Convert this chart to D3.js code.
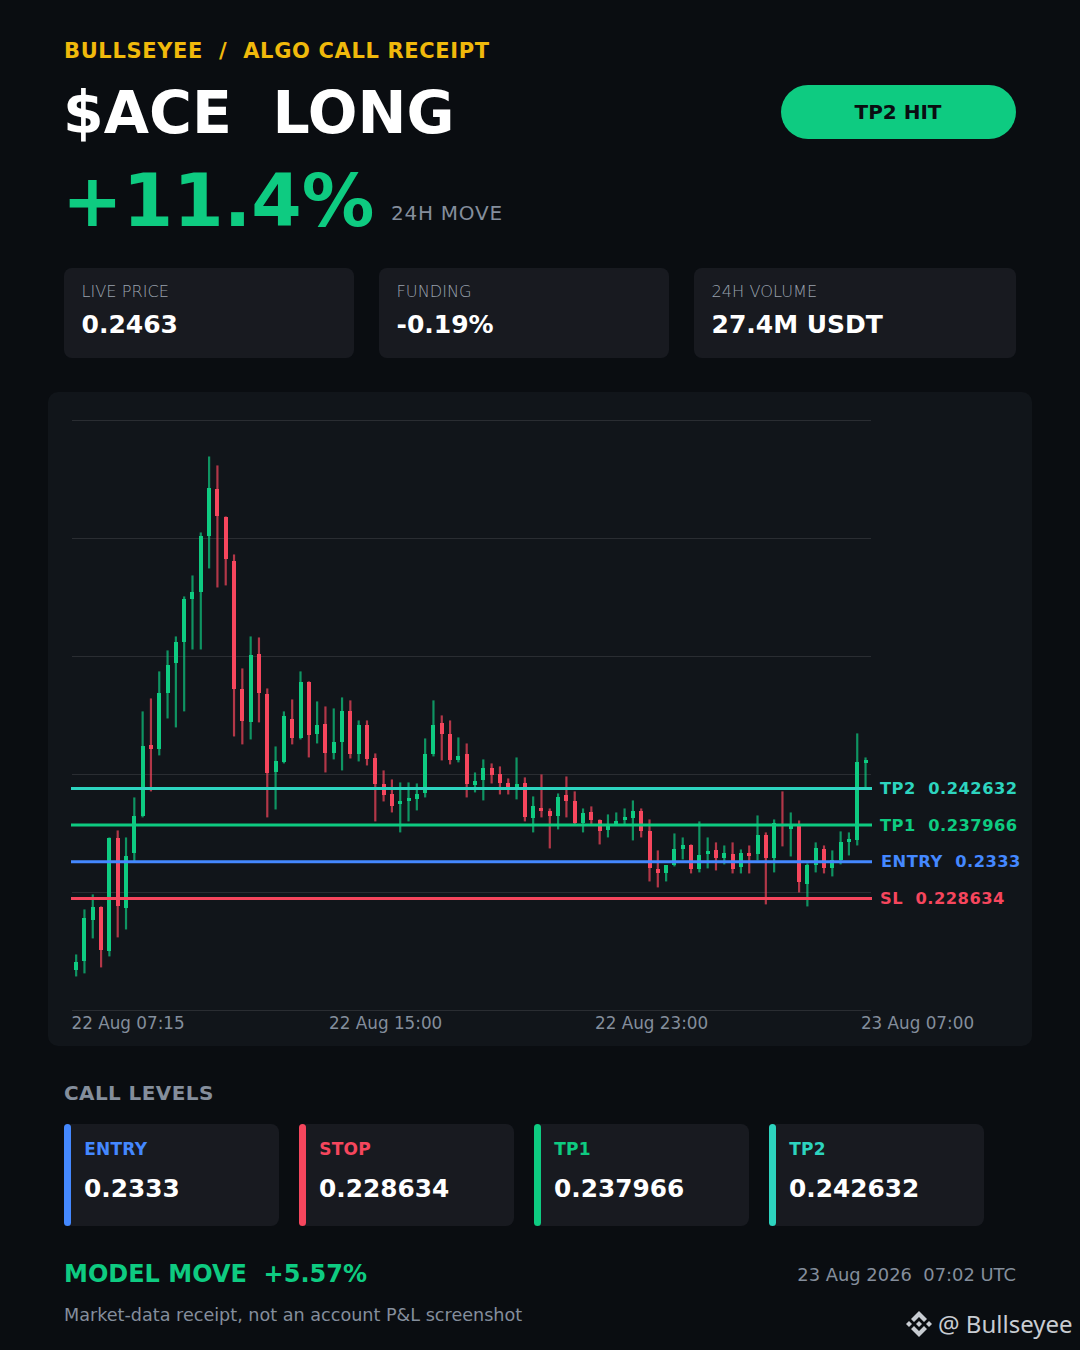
<!DOCTYPE html>
<html>
<head>
<meta charset="utf-8">
<script src="https://cdn.jsdelivr.net/npm/d3@7"></script>
<style>
  html, body { margin: 0; padding: 0; background: #0a0d11; }
  svg { display: block; }
  text { white-space: pre; }
</style>
</head>
<body>
<script>
const width = 1080, height = 1350;

// 15 minute candles, 22 Aug 07:15 to 23 Aug 07:00
const opens = [.21947,.22061,.22583,.22748,.22189,.23626,.22736,.23436,.23906,.24810,.24759,.25472,.25853,.26121,.26668,.26757,
  .27469,.28067,.27711,.27151,.25522,.25103,.25968,.25459,.24466,.24594,.25141,.24899,.25612,.24950,.25077,.24708,
  .24848,.25243,.24695,.25064,.24644,.24314,.24186,.24059,.24097,.24123,.24199,.24695,.25090,.24950,.24619,.24695,
  .24301,.24365,.24517,.24441,.24326,.24263,.24326,.23881,.24008,.23970,.23906,.24174,.24097,.23817,.23957,.23855,
  .23728,.23792,.23855,.23881,.23970,.23716,.23232,.23181,.23283,.23486,.23537,.23232,.23423,.23474,.23372,.23423,
  .23257,.23436,.23423,.23665,.23372,.23805,.23741,.23792,.23041,.23283,.23486,.23245,.23346,.23576,.23601,.24581];
const highs = [.22150,.22723,.22914,.22761,.23639,.23728,.23639,.24148,.25243,.25408,.25752,.26019,.26197,.26706,.26973,.27520,
  .28487,.28373,.27724,.27240,.25790,.26197,.26184,.25535,.24797,.25243,.25395,.25752,.25625,.25370,.25306,.25281,
  .25421,.25383,.25128,.25128,.24708,.24492,.24377,.24339,.24339,.24326,.24899,.25383,.25192,.25128,.24912,.24835,
  .24466,.24632,.24581,.24543,.24390,.24657,.24403,.24161,.24441,.24008,.24199,.24415,.24225,.24008,.24034,.23868,
  .23932,.23957,.24008,.24110,.24008,.23868,.23474,.23283,.23690,.23639,.23550,.23843,.23639,.23576,.23537,.23576,
  .23486,.23537,.23919,.23703,.23868,.24225,.23957,.23855,.23308,.23576,.23537,.23474,.23716,.23703,.24963,.24657];
const lows = [.21870,.21909,.22354,.21985,.22125,.22367,.22468,.23334,.23894,.24225,.24683,.25153,.25039,.25243,.26031,.26031,
  .27062,.26820,.26846,.24924,.24823,.24886,.25103,.23894,.23995,.24581,.24823,.24886,.24657,.24835,.24466,.24632,
  .24492,.24644,.24606,.24555,.23843,.24097,.23957,.23703,.23843,.23983,.24148,.24670,.24619,.24568,.24594,.24148,
  .24212,.24110,.24326,.24186,.24186,.24123,.23843,.23703,.23894,.23499,.23741,.23894,.23805,.23703,.23792,.23550,
  .23639,.23792,.23792,.23601,.23639,.23079,.23003,.23079,.23270,.23359,.23181,.23194,.23245,.23219,.23296,.23181,
  .23181,.23181,.23346,.22787,.23194,.23525,.23397,.22939,.22761,.23194,.23181,.23143,.23296,.23410,.23537,.24263];
const closes = [.22049,.22608,.22748,.22201,.23626,.22761,.23397,.23906,.24797,.24759,.25472,.25828,.26121,.26668,.26757,.27469,
  .28080,.27724,.27177,.25522,.25115,.25955,.25472,.24454,.24606,.25179,.24899,.25612,.24937,.25064,.24708,.24848,
  .25243,.24695,.25064,.24632,.24314,.24174,.24034,.24097,.24135,.24186,.24695,.25064,.24950,.24619,.24670,.24314,
  .24352,.24517,.24428,.24326,.24275,.24314,.23894,.24034,.23970,.23906,.24148,.24097,.23817,.23945,.23855,.23716,
  .23792,.23843,.23894,.23970,.23716,.23245,.23181,.23283,.23486,.23537,.23232,.23410,.23461,.23372,.23436,.23232,
  .23436,.23397,.23665,.23372,.23817,.23779,.23779,.23067,.23283,.23499,.23245,.23346,.23576,.23614,.24594,.24619];

const gridPrices = [.21438, .22940, .24441, .25943, .27444, .28946];
const timeTicks = [0, 31, 63, 95];
const timeLabels = ["22 Aug 07:15", "22 Aug 15:00", "22 Aug 23:00", "23 Aug 07:00"];

const levelNames = ["TP2", "TP1", "ENTRY", "SL"];
const levelValues = [0.242632, 0.237966, 0.2333, 0.228634];
const levelColors = ["#2dd4bf", "#0ecb81", "#4488ff", "#f6465d"];

const statLabels = ["LIVE PRICE", "FUNDING", "24H VOLUME"];
const statValues = ["0.2463", "-0.19%", "27.4M USDT"];
const statX = [64, 379, 694];
const statW = [290, 290, 322];

const callLabels = ["ENTRY", "STOP", "TP1", "TP2"];
const callValues = ["0.2333", "0.228634", "0.237966", "0.242632"];
const callColors = ["#4488ff", "#f6465d", "#0ecb81", "#2dd4bf"];
const callX = [64, 299, 534, 769];

const green = "#0ecb81", red = "#f6465d", grey = "#848e9c", yellow = "#f0b90b", white = "#ffffff";

const svg = d3.select("body").append("svg")
    .attr("width", width)
    .attr("height", height)
    .attr("viewBox", `0 0 ${width} ${height}`)
    .attr("font-family", "DejaVu Sans");

svg.append("rect").attr("width", width).attr("height", height).attr("fill", "#0a0d11");

function label(x, y, str, size, fill, weight, spacing) {
    return svg.append("text")
        .attr("x", x).attr("y", y)
        .attr("font-size", size)
        .attr("font-weight", weight || "normal")
        .attr("letter-spacing", spacing || 0)
        .attr("fill", fill)
        .text(str);
}

// header
label(64, 58, "BULLSEYEE  /  ALGO CALL RECEIPT", 21, yellow, "bold", 0.65);
label(63, 133, "$ACE  LONG", 58.5, white, "bold");
label(62, 226, "+11.4%", 72.5, green, "bold");
label(391, 220, "24H MOVE", 20, grey, "normal", 0.75);

svg.append("rect").attr("x", 781).attr("y", 85).attr("width", 235).attr("height", 54).attr("rx", 27).attr("fill", green);
label(898, 119, "TP2 HIT", 20, "#0a0d11", "bold").attr("text-anchor", "middle");

// stat cards
statLabels.forEach((d, i) => {
    svg.append("rect").attr("x", statX[i]).attr("y", 268).attr("width", statW[i]).attr("height", 90).attr("rx", 8).attr("fill", "#181a20");
    label(statX[i] + 17.5, 297, d, 16.2, "#9aa2ae", "200");
    label(statX[i] + 17.5, 333, statValues[i], 25, white, "bold");
});

// chart panel
svg.append("rect").attr("x", 48).attr("y", 392).attr("width", 984).attr("height", 654).attr("rx", 10).attr("fill", "#11151a");

const x = d3.scaleBand().domain(d3.range(opens.length)).range([72, 869.7]);
const y = d3.scaleLinear().domain([gridPrices[0], gridPrices[5]]).range([1010.4, 420.4]);
const cx = i => x(i) + x.bandwidth() / 2;

svg.append("g").selectAll("line").data(gridPrices).join("line")
    .attr("x1", 72).attr("x2", 871)
    .attr("y1", d => Math.round(y(d)) + 0.5).attr("y2", d => Math.round(y(d)) + 0.5)
    .attr("stroke", "#2a2d32").attr("stroke-width", 1);

const candles = svg.append("g").selectAll("g").data(d3.range(opens.length)).join("g");
candles.append("line")
    .attr("x1", i => cx(i)).attr("x2", i => cx(i))
    .attr("y1", i => y(highs[i])).attr("y2", i => y(lows[i]))
    .attr("stroke", i => closes[i] >= opens[i] ? green : red)
    .attr("stroke-opacity", 0.7)
    .attr("stroke-width", 2.2);
candles.append("rect")
    .attr("x", i => Math.round(cx(i) - 2)).attr("width", 4)
    .attr("y", i => Math.round(y(Math.max(opens[i], closes[i]))))
    .attr("height", i => Math.max(1, Math.round(Math.abs(y(opens[i]) - y(closes[i])))))
    .attr("fill", i => closes[i] >= opens[i] ? green : red);

// call levels
levelValues.forEach((v, i) => {
    svg.append("line")
        .attr("x1", 71).attr("x2", 872)
        .attr("y1", y(v)).attr("y2", y(v))
        .attr("stroke", levelColors[i]).attr("stroke-width", 3);
    label(i == 2 ? 881 : 880, y(v) + 5.7, `${levelNames[i]}  ${i == 2 ? "0.2333" : v}`, 16.3, levelColors[i], "bold", 0.5);
});

// time axis
const axis = svg.append("g")
    .attr("transform", "translate(0,1010)")
    .call(d3.axisBottom(x).tickValues(timeTicks).tickSize(0).tickPadding(7).tickFormat((d, i) => timeLabels[i]));
axis.select(".domain").remove();
axis.selectAll("text")
    .attr("text-anchor", "start")
    .attr("dx", -x.bandwidth() / 2 - 0.5)
    .attr("font-family", "DejaVu Sans")
    .attr("font-size", 16.8)
    .attr("fill", grey);

// call level cards
label(64, 1100, "CALL LEVELS", 20, grey, "bold", 0.4);
callLabels.forEach((d, i) => {
    svg.append("rect").attr("x", callX[i]).attr("y", 1124).attr("width", 215).attr("height", 102).attr("rx", 8).attr("fill", "#181a20");
    svg.append("rect").attr("x", callX[i]).attr("y", 1124).attr("width", 7).attr("height", 102).attr("rx", 3.5).attr("fill", callColors[i]);
    label(callX[i] + 20.3, 1155, d, 17, callColors[i], "bold", 0.2);
    label(callX[i] + 20, 1196.5, callValues[i], 24.8, white, "bold");
});

// footer
label(64, 1281.5, "MODEL MOVE  +5.57%", 24, green, "bold");
label(1016, 1281, "23 Aug 2026  07:02 UTC", 17.9, grey).attr("text-anchor", "end");
label(64, 1321, "Market-data receipt, not an account P&L screenshot", 17.6, grey);

// watermark
const mark = svg.append("g").attr("transform", "translate(919,1324)").attr("fill", "#c8ccd2");
["M0,-13L8,-5L5,-2L0,-7L-5,-2L-8,-5Z", "M0,13L8,5L5,2L0,7L-5,2L-8,5Z",
 "M-13,0L-10,-3L-7,0L-10,3Z", "M13,0L10,-3L7,0L10,3Z", "M0,-3L3,0L0,3L-3,0Z"]
    .forEach(d => mark.append("path").attr("d", d));
label(938, 1333, "@ Bullseyee", 24, "#c8ccd2").attr("font-family", "Noto Sans");
</script>
</body>
</html>
